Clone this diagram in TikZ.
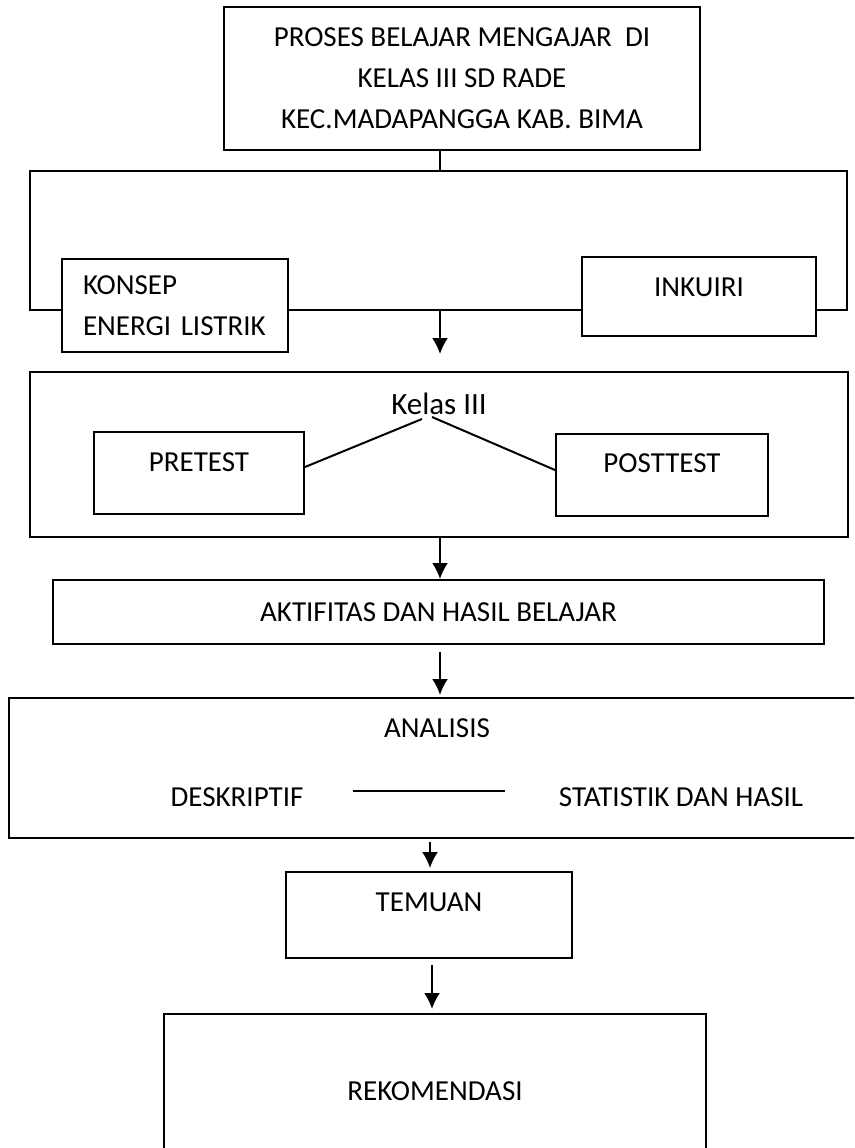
\documentclass[tikz,border=0pt]{standalone}
\usepackage{fontspec}
\setmainfont{Carlito}
\usetikzlibrary{arrows.meta}
\begin{document}
\begin{tikzpicture}[x=1pt,y=-1pt,
  every node/.style={font=\fontsize{29}{41}\selectfont},
  box/.style={draw=black,line width=2pt,fill=white,inner sep=0pt},
  arr/.style={line width=2pt,-{Latex[length=16pt,width=16pt]}},
  ln/.style={line width=2pt}]
\clip (0,0) rectangle (854,1148);
\fill[white] (0,0) rectangle (854,1148);
% top
\node[box,minimum width=476pt,minimum height=143pt,align=center] (top) at (462,78.5)
  {PROSES BELAJAR MENGAJAR\ \ DI\\KELAS III SD RADE\\KEC.MADAPANGGA KAB. BIMA};
\node[box,fill=none,minimum width=817pt,minimum height=139pt] (frame) at (438.5,240.5) {};
\node[box,minimum width=226pt,minimum height=93pt,text width=184pt,inner xsep=21pt,align=left] (konsep) at (175,305.5)
  {KONSEP\\ENERGI LISTRIK};
\node[box,minimum width=234pt,minimum height=79pt,label={[yshift=9pt]center:INKUIRI}] (inkuiri) at (699,296.5) {};
\draw[ln] ([xshift=1.5pt]frame.north |- top.south) -- ([xshift=1.5pt]frame.north);
% kelas
\node[box,minimum width=818pt,minimum height=165pt] (kelas) at (439,454.5) {};
\node[font=\fontsize{31}{36}\selectfont,inner sep=0pt] (kt) at (439,404) {Kelas III};
\node[box,minimum width=210pt,minimum height=82pt,label={[yshift=11pt]center:PRETEST}] (pre) at (199,473) {};
\node[box,minimum width=212pt,minimum height=82pt,label={[yshift=12pt]center:POSTTEST}] (post) at (662,475) {};
\coordinate (k1) at (422,419);
\coordinate (k2) at (432,417);
\draw[ln] ([yshift=6pt]pre.east) -- (k1);
\draw[ln] (k2) -- ([yshift=5pt]post.west);
\draw[arr,shorten >=17pt] ([xshift=1.5pt]frame.south) -- ([xshift=1.5pt]frame.south |- kelas.north);
% aktifitas
\node[box,minimum width=771pt,minimum height=64pt] (akt) at (438.5,612) {AKTIFITAS DAN HASIL BELAJAR};
\draw[arr] ([xshift=1pt]kelas.south) -- ([xshift=1pt]kelas.south |- akt.north);
% analisis
\node[box,minimum width=861pt,minimum height=140pt] (ana) at (439.5,768) {};
\node (anat) at (437,728) {ANALISIS};
\node (desk) at (237,797) {DESKRIPTIF};
\node (stat) at (681,797) {STATISTIK DAN HASIL};
\draw[ln,shorten <=46pt,shorten >=50pt] ([yshift=6pt]desk.east) -- ([yshift=6pt]stat.west);
\draw[arr,shorten <=7pt,shorten >=2pt] ([xshift=1.5pt]akt.south) -- ([xshift=1.5pt]akt.south |- ana.north);
% temuan
\node[box,minimum width=286pt,minimum height=86pt,label={[yshift=13pt]center:TEMUAN}] (tem) at (429,915) {};
\draw[arr,shorten <=3pt,shorten >=3pt] ([xshift=1pt]tem.north |- ana.south) -- ([xshift=1pt]tem.north);
% rekomendasi
\node[box,minimum width=542pt,minimum height=172pt,label={[yshift=9pt]center:REKOMENDASI}] (rek) at (435,1100) {};
\draw[arr,shorten <=6pt,shorten >=4pt] ([xshift=3pt]tem.south) -- ([xshift=3pt]tem.south |- rek.north);
\end{tikzpicture}
\end{document}
